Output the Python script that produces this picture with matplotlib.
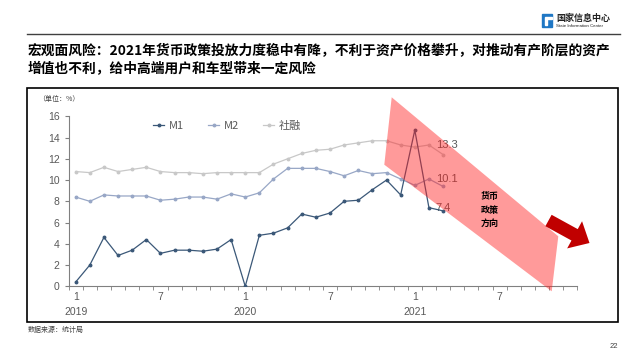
import numpy as np
import matplotlib
matplotlib.use('Agg')
import matplotlib.pyplot as plt
from matplotlib.patches import Polygon, Rectangle
from matplotlib.lines import Line2D

plt.rcParams['font.family'] = ['Liberation Sans', 'Noto Sans CJK SC', 'DejaVu Sans']
CJK = ['Noto Sans CJK SC', 'DejaVu Sans']

# monthly data, Jan 2019 - Mar 2021 (YoY %)
m1 = [0.4, 2.0, 4.6, 2.9, 3.4, 4.4, 3.1, 3.4, 3.4, 3.3, 3.5, 4.4,
      0.0, 4.8, 5.0, 5.5, 6.8, 6.5, 6.9, 8.0, 8.1, 9.1, 10.0, 8.6,
      14.7, 7.4, 7.1]
m2 = [8.4, 8.0, 8.6, 8.5, 8.5, 8.5, 8.1, 8.2, 8.4, 8.4, 8.2, 8.7,
      8.4, 8.8, 10.1, 11.1, 11.1, 11.1, 10.8, 10.4, 10.9, 10.6, 10.7, 10.1,
      9.5, 10.1, 9.4]
shrz = [10.8, 10.7, 11.2, 10.8, 11.0, 11.2, 10.8, 10.7, 10.7, 10.6, 10.7, 10.7,
        10.7, 10.7, 11.5, 12.0, 12.5, 12.8, 12.9, 13.3, 13.5, 13.7, 13.7, 13.3,
        13.1, 13.3, 12.4]
n_months = 36  # axis covers 2019-2021
month_labels = ['1', '7']
years = ['2019', '2020', '2021']
label_idx = 25  # Feb 2021 values are labelled

title = ('宏观面风险：2021年货币政策投放力度稳中有降，不利于资产价格攀升，对推动有产阶层的资产\n'
         '增值也不利，给中高端用户和车型带来一定风险')

W, H = 640, 360
def fx(x):
    return x / W
def fy(y):
    return 1 - y / H

fig = plt.figure(figsize=(6.4, 3.6), dpi=100)
fig.patch.set_facecolor('white')

# header
fig.add_artist(Line2D([fx(27), fx(620)], [fy(34), fy(34)], color='#404040', lw=1.0))
fig.add_artist(Rectangle((fx(542), fy(27)), 10 / W, 13 / H, color='#1f77c4'))
fig.add_artist(Rectangle((fx(545), fy(25)), 2 / W, 6 / H, color='white'))
fig.add_artist(Rectangle((fx(545), fy(19)), 7 / W, 2 / H, color='white'))
fig.text(fx(556), fy(18), '国家信息中心', family=CJK, fontsize=6.5, weight='bold',
         color='#222222', va='center')
fig.text(fx(556), fy(26), 'State Information Center', fontsize=3.2, color='#222222', va='center')
fig.text(fx(28), fy(60), title, family=CJK, fontsize=9.9, weight='bold', color='black',
         va='center', linespacing=1.35)

# chart frame
fig.add_artist(Rectangle((fx(27), fy(322)), 591 / W, 234 / H, fill=False,
                         edgecolor='black', lw=1.2))
fig.text(fx(38), fy(99), '（单位：%）', family=CJK, fontsize=5, color='#404040', va='center')
fig.text(fx(28), fy(330), '数据来源：统计局', family=CJK, fontsize=5, color='#404040', va='center')
fig.text(fx(614), fy(347), '22', fontsize=5.5, color='#404040', va='center', ha='center')

ax = fig.add_axes([fx(68.6), fy(286.3), (577.3 - 68.6) / W, (286.3 - 116.3) / H])
x = np.arange(len(m1))
c1, c2, c3 = '#3b5878', '#98a7c6', '#c8c8c8'
ax.plot(x, shrz, color=c3, lw=0.9, marker='o', ms=1.8, label='社融', zorder=2)
ax.plot(x, m2, color=c2, lw=0.9, marker='o', ms=1.8, label='M2', zorder=3)
ax.plot(x, m1, color=c1, lw=0.9, marker='o', ms=1.8, label='M1', zorder=4)

for s in (shrz, m2, m1):
    ax.annotate(f'{s[label_idx]:.1f}', (label_idx, s[label_idx]), xytext=(4.8, 0),
                textcoords='offset points', va='center', ha='left',
                fontsize=8, color='#595959')

ax.set_xlim(-0.5, n_months - 0.5)
ax.set_ylim(0, 16)
ax.set_yticks(np.arange(0, 17, 2))
ax.set_xticks(np.arange(-0.5, n_months, 1), minor=True)
ax.set_xticks(np.arange(0, n_months, 6))
ax.set_xticklabels([month_labels[i % 2] for i in range(n_months // 6)])
for i, yr in enumerate(years):
    ax.text(12 * i, -2.45, yr, ha='center', va='center', fontsize=7.5, color='#595959')
ax.tick_params(axis='x', which='major', length=0, labelsize=7.5, labelcolor='#595959', pad=4)
ax.tick_params(axis='x', which='minor', length=3, color='#808080', direction='out')
ax.tick_params(axis='y', length=3, color='#808080', labelsize=7.5, labelcolor='#595959')
for side in ('top', 'right'):
    ax.spines[side].set_visible(False)
for side in ('left', 'bottom'):
    ax.spines[side].set_color('#808080')
    ax.spines[side].set_linewidth(0.8)

h, l = ax.get_legend_handles_labels()
leg = ax.legend(h[::-1], l[::-1], ncol=3, frameon=False, loc='center left',
                bbox_to_anchor=(fx(143), fy(126)), bbox_transform=fig.transFigure,
                handlelength=1.0, columnspacing=2.2, handletextpad=0.4,
                prop={'family': CJK, 'size': 8})
for t in leg.get_texts():
    t.set_color('#595959')

# red translucent band
band = [(391.7, 97.3), (558.3, 236.3), (551.7, 291.3), (384.3, 164.7)]
fig.add_artist(Polygon([(fx(a), fy(b)) for a, b in band], closed=True,
                       facecolor='#ff2020', alpha=0.45, edgecolor='none', zorder=5))
fig.text(fx(490), fy(210), '货币\n政策\n方向', family=CJK, fontsize=6.5, weight='bold',
         ha='center', va='center', linespacing=1.6, zorder=6)

# dark red arrow
tail = np.array([548.5, 220.5])
tip = np.array([589.5, 243.0])
d = (tip - tail) / np.linalg.norm(tip - tail)
p = np.array([-d[1], d[0]])
base = tip - d * 17
bw, hw = 6.5, 15.5
pts = [tail + p * bw, base + p * bw, base + p * hw, tip,
       base - p * hw, base - p * bw, tail - p * bw]
fig.add_artist(Polygon([(fx(a), fy(b)) for a, b in pts], closed=True,
                       facecolor='#c00000', edgecolor='none', zorder=6))

fig.savefig('out.png', dpi=100)
